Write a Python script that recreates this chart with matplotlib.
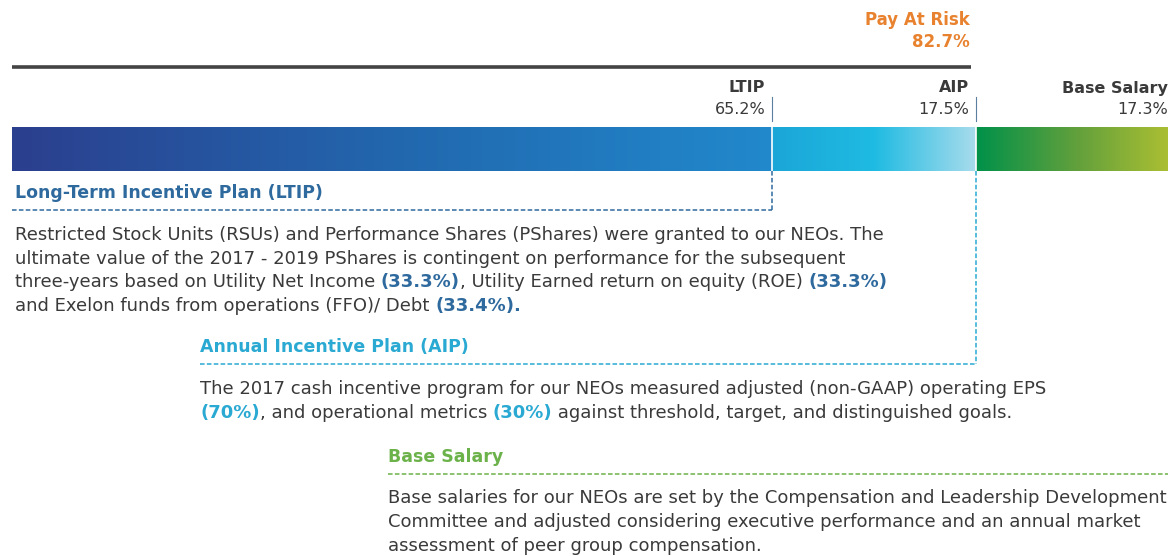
import numpy as np
import matplotlib
matplotlib.use("Agg")
import matplotlib.pyplot as plt
from matplotlib.colors import LinearSegmentedColormap

# ---- data ----
categories = ["LTIP", "AIP", "Base Salary"]
shares = [65.2, 17.5, 17.3]
share_labels = ["65.2%", "17.5%", "17.3%"]
pay_at_risk_label = "Pay At Risk"
pay_at_risk_value = "82.7%"

# ---- colours ----
DARK = "#3a3a3a"
ORANGE = "#e8822e"
LTIP_C = "#2f6a9e"
AIP_C = "#2aa9d2"
BASE_C = "#6cb24a"
gradients = [
    ["#2b3f8e", "#2267ae", "#2189cc"],
    ["#1ba6d8", "#1fbbe2", "#a9dcec"],
    ["#00914a", "#62a03c", "#b2c232"],
]

plt.rcParams["font.family"] = ["DejaVu Sans Condensed", "DejaVu Sans"]

W, H = 1168, 556
fig = plt.figure(figsize=(W / 100, H / 100), dpi=100)
fig.patch.set_facecolor("white")

# full-figure axes in pixel coordinates for annotation
ax = fig.add_axes([0, 0, 1, 1])
ax.set_xlim(0, W)
ax.set_ylim(H, 0)
ax.axis("off")

# bar axes: 0..100 % mapped along the bar
bar_left, bar_right, bar_top, bar_bot = 12, 1178, 127, 171
bax = fig.add_axes([bar_left / W, (H - bar_bot) / H, (bar_right - bar_left) / W, (bar_bot - bar_top) / H])
bax.set_xlim(0, 100)
bax.set_ylim(0, 1)
bax.axis("off")

lefts = np.concatenate([[0], np.cumsum(shares)[:-1]])
for left, val, cols in zip(lefts, shares, gradients):
    cmap = LinearSegmentedColormap.from_list("g", cols)
    grad = np.linspace(0, 1, 256).reshape(1, -1)
    bax.imshow(grad, cmap=cmap, aspect="auto", extent=(left, left + val, 0, 1), interpolation="bicubic")
bax.set_xlim(0, 100)
bax.set_ylim(0, 1)
# thin white separator between segments
for b in np.cumsum(shares)[:-1]:
    bax.axvline(b, color="white", lw=1.2)


def to_px(v):
    return bax.transData.transform((v, 0))[0] * 100 / fig.dpi


ends = [to_px(v) for v in np.cumsum(shares)]

# ---- top: pay at risk ----
risk_end = ends[1]
ax.text(risk_end - 7, 20, pay_at_risk_label, color=ORANGE, fontsize=12, fontweight="bold", ha="right", va="center")
ax.text(risk_end - 7, 42, pay_at_risk_value, color=ORANGE, fontsize=12, fontweight="bold", ha="right", va="center")
ax.plot([12, risk_end - 5], [67, 67], color="#444444", lw=2.6, solid_capstyle="butt")

# ---- segment labels ----
for i, (cat, lab) in enumerate(zip(categories, share_labels)):
    x = ends[i] - 7 if i < 2 else W
    ax.text(x, 88, cat, color=DARK, fontsize=11.5, fontweight="bold", ha="right", va="center")
    ax.text(x, 110, lab, color=DARK, fontsize=11.5, ha="right", va="center")
    if i < 2:
        ax.plot([ends[i], ends[i]], [97, 121], color="#5b7fa0", lw=0.8)

# ---- dashed callouts ----
dash = dict(lw=1.1, linestyle=(0, (3, 1.5)))
ax.plot([ends[0], ends[0]], [bar_bot, 210], color=LTIP_C, **dash)
ax.plot([12, ends[0]], [210, 210], color=LTIP_C, **dash)
ax.plot([ends[1], ends[1]], [bar_bot, 364], color=AIP_C, **dash)
ax.plot([200, ends[1]], [364, 364], color=AIP_C, **dash)
ax.plot([388, W], [474, 474], color=BASE_C, **dash)

# ---- section headers ----
HDR = 12.5
ax.text(15, 193, "Long-Term Incentive Plan (LTIP)", color=LTIP_C, fontsize=HDR, fontweight="bold", va="center")
ax.text(200, 347, "Annual Incentive Plan (AIP)", color=AIP_C, fontsize=HDR, fontweight="bold", va="center")
ax.text(388, 457, "Base Salary", color=BASE_C, fontsize=HDR, fontweight="bold", va="center")

# ---- body text with inline highlights ----
BODY = 13
renderer = fig.canvas.get_renderer()


def rich_line(x, y, parts):
    for txt, col, bold in parts:
        t = ax.text(x, y, txt, color=col, fontsize=BODY, fontweight="bold" if bold else "normal",
                    va="baseline", ha="left")
        x += t.get_window_extent(renderer).width


ltip_lines = [
    [("Restricted Stock Units (RSUs) and Performance Shares (PShares) were granted to our NEOs. The", DARK, False)],
    [("ultimate value of the 2017 - 2019 PShares is contingent on performance for the subsequent", DARK, False)],
    [("three-years based on Utility Net Income ", DARK, False), ("(33.3%)", LTIP_C, True),
     (", Utility Earned return on equity (ROE) ", DARK, False), ("(33.3%)", LTIP_C, True)],
    [("and Exelon funds from operations (FFO)/ Debt ", DARK, False), ("(33.4%).", LTIP_C, True)],
]
aip_lines = [
    [("The 2017 cash incentive program for our NEOs measured adjusted (non-GAAP) operating EPS", DARK, False)],
    [("(70%)", AIP_C, True), (", and operational metrics ", DARK, False), ("(30%)", AIP_C, True),
     (" against threshold, target, and distinguished goals.", DARK, False)],
]
base_lines = [
    [("Base salaries for our NEOs are set by the Compensation and Leadership Development", DARK, False)],
    [("Committee and adjusted considering executive performance and an annual market", DARK, False)],
    [("assessment of peer group compensation.", DARK, False)],
]

for k, line in enumerate(ltip_lines):
    rich_line(15, 240 + k * 23.7, line)
for k, line in enumerate(aip_lines):
    rich_line(200, 394 + k * 24, line)
for k, line in enumerate(base_lines):
    rich_line(388, 503 + k * 24, line)

fig.savefig("out.png", dpi=100, facecolor="white")
